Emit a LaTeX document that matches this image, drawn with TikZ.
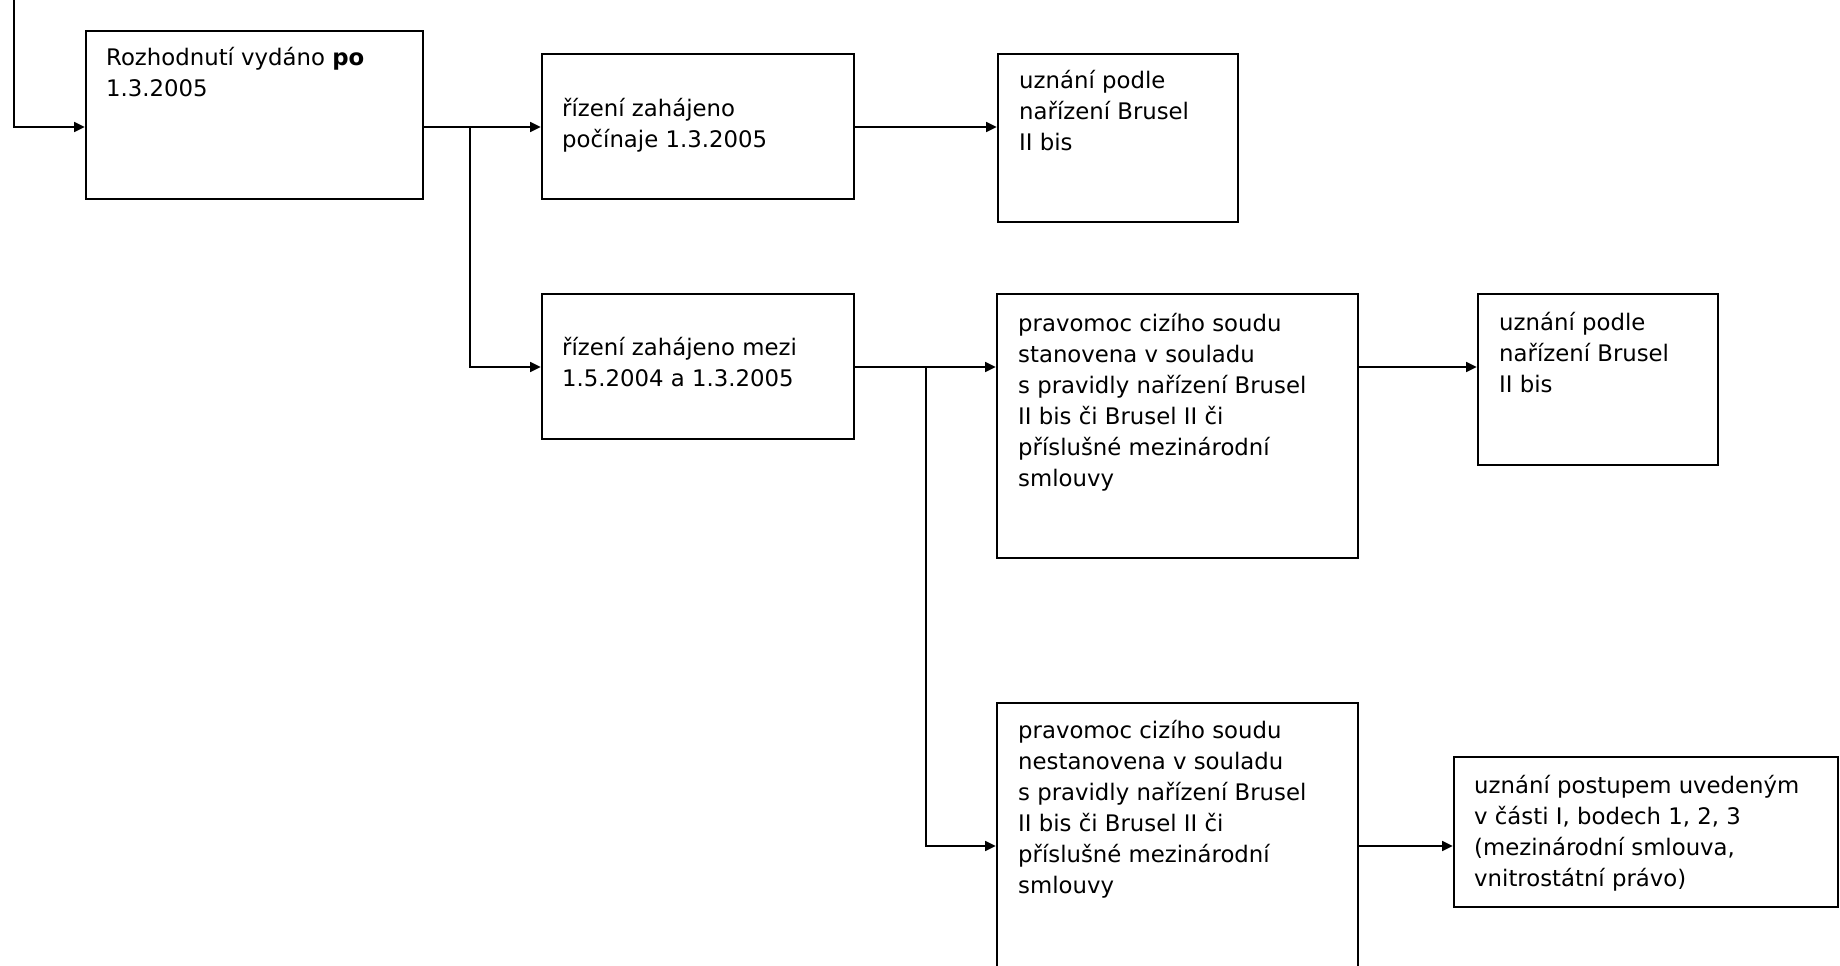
\documentclass[tikz,border=0pt]{standalone}
\usepackage{fontspec}
\setmainfont{DejaVu Sans}
\usetikzlibrary{arrows.meta,calc}
\tikzset{
  box/.style={draw=black, line width=1.2pt, inner sep=0pt, fill=none},
  txt/.style={anchor=base west, inner sep=0pt, align=left,
    font=\fontsize{11.4}{15.5}\selectfont},
  arr/.style={draw=black, line width=1.2pt, -{Triangle[length=5.3pt,width=4.8pt]}}
}
\begin{document}
\begin{tikzpicture}[x=0.5pt,y=-0.5pt]
\useasboundingbox (0,0) rectangle (1840,965);
\clip (0,0) rectangle (1840,965);
% boxes
\node[box, minimum width=168.5pt, minimum height=84pt] (b1) at (254.5,115) {};
\node[box, minimum width=156pt, minimum height=72.5pt] (b2) at (698,126.5) {};
\node[box, minimum width=120pt, minimum height=84pt] (b3) at (1118,138) {};
\node[box, minimum width=156pt, minimum height=72.5pt] (b4) at (698,366.5) {};
\node[box, minimum width=180.5pt, minimum height=132pt] (b5) at (1177.5,426) {};
\node[box, minimum width=120pt, minimum height=85.5pt] (b6) at (1598,379.5) {};
\node[box, minimum width=180.5pt, minimum height=148.5pt] (b7) at (1177.5,851.5) {};
\node[box, minimum width=192pt, minimum height=75pt] (b8) at (1646,832) {};
% texts (anchor = baseline of the last line)
\node[txt] (t1) at ($(b1.north west)+(21,67)$) {Rozhodnutí vydáno \textbf{po}\\1.3.2005};
\node[txt] (t2) at ($(b2.north west)+(21,95)$) {řízení zahájeno\\počínaje 1.3.2005};
\node[txt] (t3) at ($(b3.north west)+(22,98)$) {uznání podle\\nařízení Brusel\\II bis};
\node[txt] (t4) at ($(b4.north west)+(21,94)$) {řízení zahájeno mezi\\1.5.2004 a 1.3.2005};
\node[txt] (t5) at ($(b5.north west)+(22,194)$) {pravomoc cizího soudu\\stanovena v souladu\\s pravidly nařízení Brusel\\II bis či Brusel II či\\příslušné mezinárodní\\smlouvy};
\node[txt] (t6) at ($(b6.north west)+(22,100)$) {uznání podle\\nařízení Brusel\\II bis};
\node[txt] (t7) at ($(b7.north west)+(22,192)$) {pravomoc cizího soudu\\nestanovena v souladu\\s pravidly nařízení Brusel\\II bis či Brusel II či\\příslušné mezinárodní\\smlouvy};
\node[txt] (t8) at ($(b8.north west)+(21,131)$) {uznání postupem uvedeným\\v části I, bodech 1, 2, 3\\(mezinárodní smlouva,\\vnitrostátní právo)};
% rows and junctions
\coordinate (r1) at (0,127);
\coordinate (r2) at (0,367);
\coordinate (r3) at (0,846);
\coordinate (start) at (14,0);
\coordinate (j1) at (470,127);
\coordinate (j2) at (926,367);
% connectors
\draw[arr] (start) |- (b1.west |- r1);
\draw[arr] (b1.east |- r1) -- (b2.west |- r1);
\draw[arr] (b2.east |- r1) -- (b3.west |- r1);
\draw[arr] (j1) |- (b4.west |- r2);
\draw[arr] (b4.east |- r2) -- (b5.west |- r2);
\draw[arr] (b5.east |- r2) -- (b6.west |- r2);
\draw[arr] (j2) |- (b7.west |- r3);
\draw[arr] (b7.east |- r3) -- (b8.west |- r3);
\end{tikzpicture}
\end{document}
